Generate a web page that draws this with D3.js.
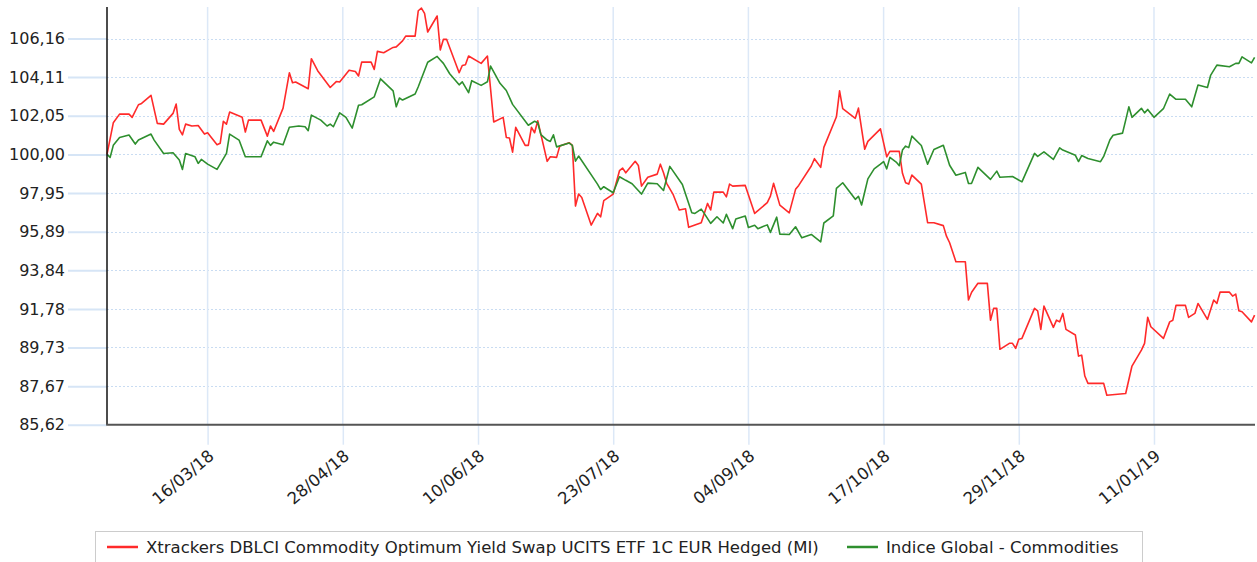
<!DOCTYPE html>
<html><head><meta charset="utf-8">
<script src="https://cdn.jsdelivr.net/npm/d3@7"></script>
<style>
html,body{margin:0;padding:0;background:#fff;}
svg{display:block;font-family:"DejaVu Sans",Verdana,sans-serif;}
</style></head><body>
<svg id="chart" width="1257" height="562"></svg>
<script>
const seriesNames = ["Xtrackers DBLCI Commodity Optimum Yield Swap UCITS ETF 1C EUR Hedged (MI)", "Indice Global - Commodities"];
const seriesColors = ["#ff2a2a", "#2e8f2e"];
const yTickValues = [85.62, 87.67, 89.73, 91.78, 93.84, 95.89, 97.95, 100.00, 102.05, 104.11, 106.16];
const xTickDates = ["2018-03-16", "2018-04-28", "2018-06-10", "2018-07-23", "2018-09-04", "2018-10-17", "2018-11-29", "2019-01-11"];
const xDomain = ["2018-02-12", "2019-02-12"];

const redDates = [
"2018-02-12","2018-02-14","2018-02-16","2018-02-19","2018-02-20","2018-02-22","2018-02-23","2018-02-26","2018-02-28","2018-03-02",
"2018-03-05","2018-03-06","2018-03-07","2018-03-08","2018-03-09","2018-03-11","2018-03-13","2018-03-15","2018-03-16","2018-03-19",
"2018-03-20","2018-03-21","2018-03-22","2018-03-23","2018-03-27","2018-03-28","2018-03-29","2018-04-02","2018-04-04","2018-04-05",
"2018-04-06","2018-04-09","2018-04-11","2018-04-12","2018-04-13","2018-04-17","2018-04-18","2018-04-20","2018-04-24","2018-04-26",
"2018-04-27","2018-04-30","2018-05-02","2018-05-03","2018-05-04","2018-05-07","2018-05-08","2018-05-09","2018-05-11","2018-05-14",
"2018-05-15","2018-05-17","2018-05-18","2018-05-21","2018-05-22","2018-05-23","2018-05-24","2018-05-25","2018-05-28","2018-05-29",
"2018-05-30","2018-05-31","2018-06-04","2018-06-05","2018-06-06","2018-06-07","2018-06-11","2018-06-13","2018-06-15","2018-06-18",
"2018-06-19","2018-06-20","2018-06-21","2018-06-22","2018-06-25","2018-06-26","2018-06-27","2018-06-28","2018-06-29","2018-07-02",
"2018-07-03","2018-07-05","2018-07-06","2018-07-09","2018-07-10","2018-07-11","2018-07-12","2018-07-13","2018-07-16","2018-07-18",
"2018-07-19","2018-07-20","2018-07-23","2018-07-25","2018-07-26","2018-07-27","2018-07-30","2018-07-31","2018-08-01","2018-08-03",
"2018-08-06","2018-08-07","2018-08-08","2018-08-09","2018-08-11","2018-08-13","2018-08-15","2018-08-16","2018-08-20","2018-08-22",
"2018-08-23","2018-08-24","2018-08-27","2018-08-28","2018-08-29","2018-08-30","2018-09-03","2018-09-06","2018-09-10","2018-09-11",
"2018-09-12","2018-09-14","2018-09-17","2018-09-19","2018-09-20","2018-09-24","2018-09-25","2018-09-27","2018-09-28","2018-10-02",
"2018-10-03","2018-10-04","2018-10-08","2018-10-09","2018-10-11","2018-10-12","2018-10-16","2018-10-18","2018-10-19","2018-10-22",
"2018-10-23","2018-10-24","2018-10-25","2018-10-26","2018-10-29","2018-10-31","2018-11-02","2018-11-05","2018-11-06","2018-11-07",
"2018-11-09","2018-11-12","2018-11-13","2018-11-14","2018-11-16","2018-11-19","2018-11-20","2018-11-21","2018-11-22","2018-11-23",
"2018-11-26","2018-11-27","2018-11-28","2018-11-29","2018-11-30","2018-12-04","2018-12-05","2018-12-06","2018-12-07","2018-12-10",
"2018-12-11","2018-12-12","2018-12-13","2018-12-14","2018-12-17","2018-12-18","2018-12-19","2018-12-20","2018-12-21","2018-12-26",
"2018-12-27","2019-01-02","2019-01-04","2019-01-07","2019-01-08","2019-01-09","2019-01-10","2019-01-14","2019-01-16","2019-01-17",
"2019-01-18","2019-01-21","2019-01-22","2019-01-24","2019-01-25","2019-01-28","2019-01-30","2019-01-31","2019-02-01","2019-02-04",
"2019-02-05","2019-02-06","2019-02-07","2019-02-08","2019-02-11","2019-02-12"];
const redValues = [
100.00,101.68,102.14,102.14,101.97,102.64,102.71,103.14,101.65,101.61,
102.18,102.68,101.33,101.04,101.61,101.51,101.54,101.08,101.15,100.51,
100.59,101.76,101.61,102.25,101.97,101.19,101.82,101.82,100.97,101.51,
101.22,102.46,104.34,103.81,103.85,103.49,105.09,104.45,103.56,103.88,
103.85,104.48,104.41,104.17,104.91,104.91,104.52,105.48,105.41,105.69,
105.72,106.04,106.29,106.29,107.64,107.78,107.50,106.51,107.36,105.55,
106.12,106.12,104.34,104.73,104.77,105.23,104.84,105.23,101.72,101.97,
100.90,100.87,100.12,101.44,100.48,100.48,101.44,101.15,101.79,99.63,
99.87,99.84,100.44,100.62,100.48,97.25,97.89,97.71,96.24,96.86,
96.68,97.54,97.89,99.13,99.27,99.02,99.63,99.41,98.31,98.78,
98.95,99.48,99.02,98.46,97.89,97.04,97.11,96.12,96.36,97.39,
97.04,97.99,97.99,97.74,98.42,98.31,98.35,96.86,97.43,97.78,
98.46,97.30,96.89,98.14,98.35,99.38,99.77,99.31,100.37,102.00,
103.38,102.43,101.92,102.46,100.27,100.69,101.36,99.87,100.16,100.16,
98.99,98.49,98.42,98.90,98.42,96.37,96.36,96.21,95.65,95.30,
94.29,94.29,92.25,92.67,93.14,93.14,91.18,91.81,91.81,89.63,
89.95,89.95,89.68,90.16,90.21,91.81,91.68,90.69,91.93,90.80,
91.18,91.09,91.54,90.69,90.39,89.27,89.32,88.21,87.82,87.82,
87.19,87.28,88.74,89.59,89.95,91.33,90.83,90.21,91.09,91.18,
91.97,91.97,91.33,91.54,92.07,91.22,92.25,92.07,92.67,92.67,
92.46,92.57,91.68,91.63,91.09,91.45];

const greenDates = [
"2018-02-12","2018-02-13","2018-02-14","2018-02-16","2018-02-19","2018-02-21","2018-02-22","2018-02-26","2018-02-27","2018-03-02",
"2018-03-05","2018-03-07","2018-03-08","2018-03-09","2018-03-12","2018-03-13","2018-03-14","2018-03-16","2018-03-19","2018-03-22",
"2018-03-23","2018-03-26","2018-03-28","2018-04-02","2018-04-04","2018-04-05","2018-04-06","2018-04-09","2018-04-11","2018-04-14",
"2018-04-16","2018-04-17","2018-04-18","2018-04-21","2018-04-23","2018-04-24","2018-04-25","2018-04-27","2018-04-29","2018-05-01",
"2018-05-03","2018-05-04","2018-05-08","2018-05-10","2018-05-14","2018-05-15","2018-05-16","2018-05-17","2018-05-21","2018-05-22",
"2018-05-25","2018-05-28","2018-05-29","2018-05-30","2018-06-01","2018-06-04","2018-06-05","2018-06-07","2018-06-08","2018-06-11",
"2018-06-13","2018-06-14","2018-06-17","2018-06-19","2018-06-21","2018-06-26","2018-06-28","2018-06-29","2018-06-30","2018-07-02",
"2018-07-03","2018-07-04","2018-07-05","2018-07-09","2018-07-10","2018-07-11","2018-07-12","2018-07-18","2018-07-19","2018-07-20",
"2018-07-23","2018-07-25","2018-07-27","2018-07-29","2018-08-01","2018-08-03","2018-08-06","2018-08-08","2018-08-10","2018-08-14",
"2018-08-17","2018-08-18","2018-08-20","2018-08-21","2018-08-23","2018-08-25","2018-08-27","2018-08-28","2018-08-30","2018-08-31",
"2018-09-03","2018-09-04","2018-09-06","2018-09-07","2018-09-10","2018-09-11","2018-09-13","2018-09-14","2018-09-17","2018-09-19",
"2018-09-21","2018-09-24","2018-09-27","2018-09-28","2018-10-01","2018-10-02","2018-10-04","2018-10-08","2018-10-09","2018-10-10",
"2018-10-12","2018-10-14","2018-10-16","2018-10-17","2018-10-18","2018-10-19","2018-10-21","2018-10-22","2018-10-23","2018-10-24",
"2018-10-25","2018-10-26","2018-10-29","2018-10-31","2018-11-02","2018-11-05","2018-11-07","2018-11-09","2018-11-12","2018-11-13",
"2018-11-14","2018-11-16","2018-11-20","2018-11-22","2018-11-23","2018-11-27","2018-11-30","2018-12-04","2018-12-05","2018-12-07",
"2018-12-10","2018-12-12","2018-12-13","2018-12-17","2018-12-18","2018-12-19","2018-12-21","2018-12-25","2018-12-26","2018-12-28",
"2018-12-29","2019-01-01","2019-01-02","2019-01-03","2019-01-04","2019-01-07","2019-01-08","2019-01-09","2019-01-11","2019-01-14",
"2019-01-16","2019-01-18","2019-01-21","2019-01-23","2019-01-25","2019-01-28","2019-01-29","2019-01-31","2019-02-04","2019-02-06",
"2019-02-07","2019-02-08","2019-02-11","2019-02-12"];
const greenValues = [
100.00,99.84,100.48,100.90,101.03,100.55,100.76,101.08,100.76,100.05,
100.09,99.70,99.20,100.05,99.87,99.52,99.73,99.48,99.20,100.05,
101.08,100.76,99.87,99.87,100.72,100.48,100.65,100.51,101.44,101.51,
101.47,101.26,102.09,101.82,101.51,101.61,101.47,102.21,101.97,101.40,
102.61,102.64,103.06,104.02,103.38,102.53,103.00,102.89,103.21,103.60,
104.90,105.21,105.02,104.84,104.29,103.70,103.86,103.28,103.92,103.67,
103.86,104.70,103.78,103.40,102.66,101.55,101.76,101.68,101.05,100.76,
100.69,101.04,100.40,100.60,100.48,99.64,99.91,98.42,98.13,98.28,
97.96,98.81,98.62,98.44,97.89,98.47,98.44,98.08,99.36,98.40,
96.90,96.86,97.09,96.85,96.33,96.68,96.35,96.81,96.05,96.56,
96.72,96.11,96.23,96.05,96.25,95.85,96.66,95.76,95.74,96.15,
95.56,95.74,95.35,96.35,96.73,98.19,98.49,97.61,97.77,97.31,
98.70,99.23,99.48,99.62,99.23,99.84,99.59,99.40,100.23,100.44,
100.36,100.97,100.47,99.48,100.26,100.48,99.42,98.89,99.04,98.45,
98.46,99.31,98.67,99.11,98.78,98.82,98.54,100.05,99.89,100.13,
99.73,100.35,100.23,99.95,99.62,99.94,99.78,99.61,99.89,100.78,
101.02,101.13,101.82,102.53,101.97,102.45,102.21,102.39,101.97,102.43,
103.21,102.93,102.93,102.53,103.69,103.56,104.20,104.75,104.66,104.84,
104.84,105.19,104.87,105.16];

const parse = d3.timeParse("%Y-%m-%d");
const fmtDate = d3.timeFormat("%d/%m/%y");
const fmtVal = v => v.toFixed(2).replace(".", ",");

const L = 107, R = 1255, T = 7, B = 424.7;
const svg = d3.select("#chart");

const x = d3.scaleTime().domain(xDomain.map(parse)).range([L, 1254.6]);
const y = d3.scaleLinear().domain([85.62, 107.84]).range([B, T]);

// horizontal dotted gridlines
svg.append("g").selectAll("line").data(yTickValues.filter(v => v > 85.62)).join("line")
  .attr("x1", L).attr("x2", R)
  .attr("y1", d => Math.round(y(d)) + 0.5).attr("y2", d => Math.round(y(d)) + 0.5)
  .attr("stroke", "#c9dcf2").attr("stroke-width", 1).attr("stroke-dasharray", "2,2");

// vertical gridlines
const xTicks = xTickDates.map(parse);
svg.append("g").selectAll("line").data(xTicks).join("line")
  .attr("x1", d => x(d)).attr("x2", d => x(d))
  .attr("y1", T).attr("y2", B)
  .attr("stroke", "#dce8f7").attr("stroke-width", 1.5);

// y axis
const yAxis = svg.append("g").attr("transform", `translate(${L},0)`)
  .call(d3.axisLeft(y).tickValues(yTickValues).tickSize(39).tickSizeOuter(0).tickPadding(3).tickFormat(fmtVal));
yAxis.select(".domain").remove();
yAxis.selectAll(".tick line").attr("stroke", "#d6e5f6").attr("stroke-width", 2);
yAxis.selectAll(".tick text").attr("fill", "#222").style("font-size", "16px").style("font-family", "'DejaVu Sans', Verdana, sans-serif");

// x axis
const xAxis = svg.append("g").attr("transform", `translate(0,${B})`)
  .call(d3.axisBottom(x).tickValues(xTicks).tickSize(20).tickSizeOuter(0).tickFormat(fmtDate));
xAxis.select(".domain").remove();
xAxis.selectAll(".tick line").attr("stroke", "#dce8f7").attr("stroke-width", 1.5);
xAxis.selectAll(".tick text")
  .attr("x", 0).attr("y", 0).attr("dy", 0)
  .attr("text-anchor", "end")
  .attr("transform", "translate(7,33) rotate(-40)")
  .attr("fill", "#222").style("font-size", "16.5px").style("font-family", "'DejaVu Sans', Verdana, sans-serif");

// series lines
const line = d3.line().x(d => x(d.date)).y(d => y(d.value));
const redData = redDates.map((d, i) => ({date: parse(d), value: redValues[i]}));
const greenData = greenDates.map((d, i) => ({date: parse(d), value: greenValues[i]}));
[redData, greenData].forEach((data, i) => {
  svg.append("path").datum(data)
    .attr("fill", "none").attr("stroke", seriesColors[i]).attr("stroke-width", 1.6)
    .attr("stroke-linejoin", "round").attr("d", line);
});

// axis lines
svg.append("line").attr("x1", L).attr("x2", L).attr("y1", T).attr("y2", B)
  .attr("stroke", "#111").attr("stroke-width", 1.5);
svg.append("line").attr("x1", L - 0.75).attr("x2", R).attr("y1", B).attr("y2", B)
  .attr("stroke", "#555").attr("stroke-width", 2);

// legend
const lg = svg.append("g");
lg.append("rect").attr("x", 95.5).attr("y", 531.5).attr("width", 1047).attr("height", 40)
  .attr("fill", "#fff").attr("stroke", "#ccc").attr("stroke-width", 1);
const legendItems = [
  {x0: 107, x1: 138, tx: 146},
  {x0: 847, x1: 878, tx: 886}
];
legendItems.forEach((it, i) => {
  lg.append("line").attr("x1", it.x0).attr("x2", it.x1).attr("y1", 547).attr("y2", 547)
    .attr("stroke", seriesColors[i]).attr("stroke-width", 2.5);
  lg.append("text").attr("x", it.tx).attr("y", 553).attr("fill", "#222")
    .style("font-size", "16.5px").text(seriesNames[i]);
});
</script>
</body></html>
